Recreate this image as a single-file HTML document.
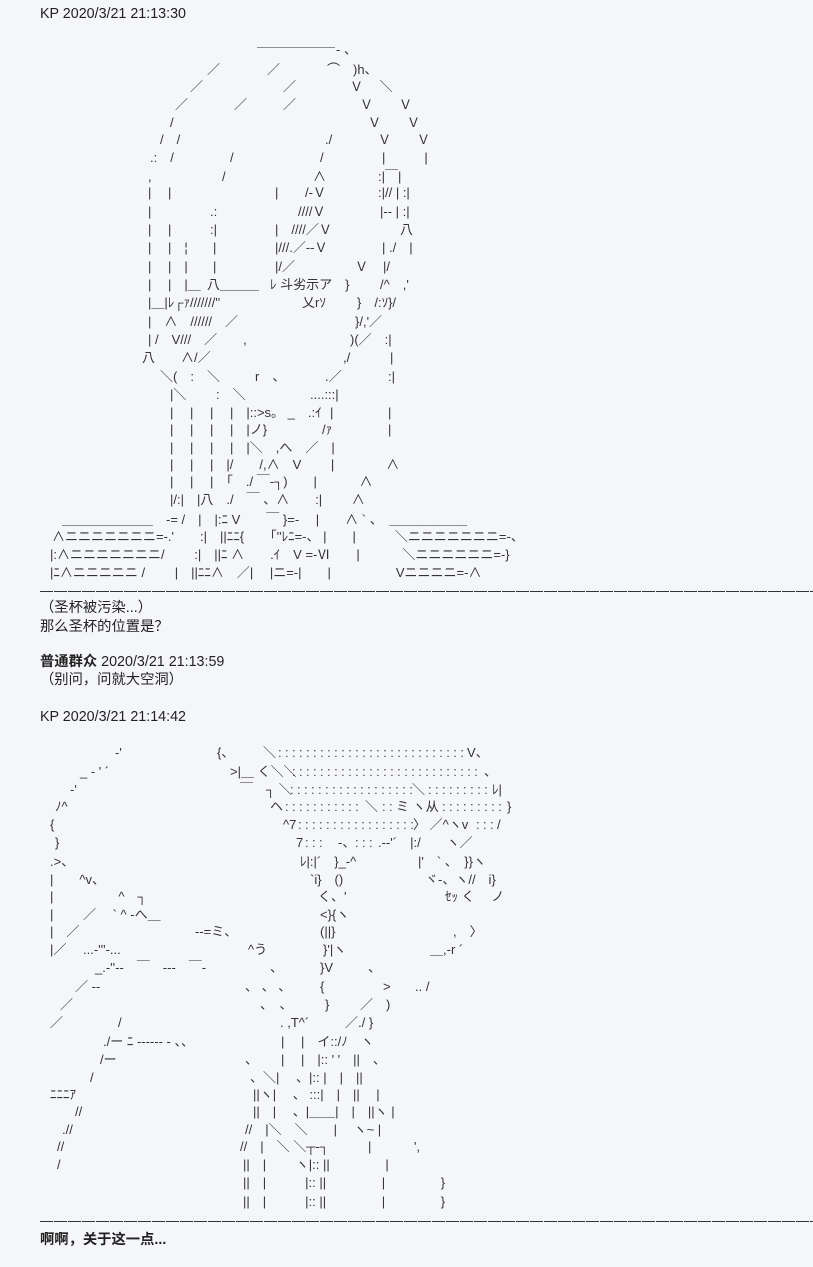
<!DOCTYPE html>
<html><head><meta charset="utf-8"><style>
html,body{margin:0;padding:0;background:#f5f6fa;}
body{width:813px;height:1267px;position:relative;overflow:hidden;color:#222;font-family:"Liberation Sans","Noto Sans CJK SC",sans-serif;font-size:14.3px;}
.t{position:absolute;left:40px;white-space:pre;line-height:18px;}
.a{position:absolute;white-space:pre;line-height:18px;font-size:13px;font-family:"Liberation Sans","Noto Sans CJK JP",sans-serif;color:#333;}
.dt{position:absolute;white-space:pre;line-height:18px;font-size:13px;letter-spacing:3.4px;color:#444;font-family:"Liberation Sans",sans-serif;}
.d{position:absolute;left:40px;width:773px;height:1px;background:repeating-linear-gradient(90deg,#333 0 13px,transparent 13px 14px);}
</style></head><body>
<div class="t" style="top:5px">KP 2020/3/21 21:13:30</div>

<div class="a" style="top:46px;left:257px">￣￣￣￣￣￣</div><div class="a" style="top:41px;left:336px">‐ 、</div>
<div class="a" style="top:61px;left:207px">／</div><div class="a" style="top:61px;left:267px">／</div><div class="a" style="top:61px;left:327px">⌒　)h、</div>
<div class="a" style="top:78px;left:190px">／</div><div class="a" style="top:78px;left:283px">／</div><div class="a" style="top:78px;left:350px">Ｖ　 ＼</div>
<div class="a" style="top:96px;left:175px">／</div><div class="a" style="top:96px;left:234px">／</div><div class="a" style="top:96px;left:283px">／</div><div class="a" style="top:96px;left:360px">Ｖ　　Ｖ</div>
<div class="a" style="top:114px;left:170px">/</div><div class="a" style="top:114px;left:368px">Ｖ　　Ｖ</div>
<div class="a" style="top:131px;left:160px">/　/</div><div class="a" style="top:131px;left:325px">./</div><div class="a" style="top:131px;left:378px">Ｖ　　Ｖ</div>
<div class="a" style="top:149px;left:150px">.:　/</div><div class="a" style="top:149px;left:230px">/</div><div class="a" style="top:149px;left:320px">/</div><div class="a" style="top:149px;left:382px">|　　　|</div>
<div class="a" style="top:168px;left:148px">,</div><div class="a" style="top:168px;left:222px">/</div><div class="a" style="top:168px;left:313px">∧</div><div class="a" style="top:168px;left:378px">:|￣|</div>
<div class="a" style="top:184px;left:148px">|　 |</div><div class="a" style="top:184px;left:275px">|</div><div class="a" style="top:184px;left:305px">/‐Ｖ</div><div class="a" style="top:184px;left:378px">:|// | :|</div>
<div class="a" style="top:203px;left:148px">|</div><div class="a" style="top:203px;left:210px">.:</div><div class="a" style="top:203px;left:298px">////Ｖ</div><div class="a" style="top:203px;left:380px">|‐‐ | :|</div>
<div class="a" style="top:221px;left:148px">|　 |</div><div class="a" style="top:221px;left:210px">:|</div><div class="a" style="top:221px;left:275px">|　////／Ｖ</div><div class="a" style="top:221px;left:400px">八</div>
<div class="a" style="top:239px;left:148px">|　 |　¦</div><div class="a" style="top:239px;left:213px">|</div><div class="a" style="top:239px;left:275px">|///.／‐‐Ｖ</div><div class="a" style="top:239px;left:382px">| ./　|</div>
<div class="a" style="top:258px;left:148px">|　 |　|</div><div class="a" style="top:258px;left:213px">|</div><div class="a" style="top:258px;left:275px">|/／</div><div class="a" style="top:258px;left:355px">Ｖ</div><div class="a" style="top:258px;left:383px">|/</div>
<div class="a" style="top:276px;left:148px">|　 |　|＿</div><div class="a" style="top:276px;left:207px">八＿＿＿</div><div class="a" style="top:276px;left:270px">ﾚ 斗劣示ア　}</div><div class="a" style="top:276px;left:380px">/^　,'</div>
<div class="a" style="top:294px;left:148px">|＿|ﾚ┌ｧ///////''</div><div class="a" style="top:294px;left:302px">乂rｿ</div><div class="a" style="top:294px;left:357px">}　/:ｿ}/</div>
<div class="a" style="top:313px;left:148px">|　∧　//////　／</div><div class="a" style="top:313px;left:355px">}/,'／</div>
<div class="a" style="top:331px;left:148px">| /　V///　／　　,</div><div class="a" style="top:331px;left:350px">)(／　:|</div>
<div class="a" style="top:349px;left:142px">八　　∧/／</div><div class="a" style="top:349px;left:343px">,/</div><div class="a" style="top:349px;left:390px">|</div>
<div class="a" style="top:368px;left:160px">＼(　:　＼</div><div class="a" style="top:368px;left:255px">r　、</div><div class="a" style="top:368px;left:325px">.／</div><div class="a" style="top:368px;left:388px">:|</div>
<div class="a" style="top:386px;left:170px">|＼　　 :　＼</div><div class="a" style="top:386px;left:310px">....:::|</div>
<div class="a" style="top:404px;left:170px">|　 |　 |　 |　|::>s。 _　.:ｲ</div><div class="a" style="top:404px;left:330px">|</div><div class="a" style="top:404px;left:388px">|</div>
<div class="a" style="top:421px;left:170px">|　 |　 |　 |　|ノ}</div><div class="a" style="top:421px;left:322px">/ｧ</div><div class="a" style="top:421px;left:388px">|</div>
<div class="a" style="top:439px;left:170px">|　 |　 |　 |　|＼　,へ　／　|</div>
<div class="a" style="top:456px;left:170px">|　 |　 |　|/　　/,∧　V　　 |　　　　∧</div>
<div class="a" style="top:473px;left:170px">|　 |　 |　「　./ ￣‐┐)　　|　　　 ∧</div>
<div class="a" style="top:491px;left:170px">|/:|　|八　./　￣ 、∧　　:|　　 ∧</div>
<div class="a" style="top:511px;left:62px">＿＿＿＿＿＿＿　‐= /　|　|:ﾆ V　　￣ }=‐　 |　　∧ ` 、　＿＿＿＿＿＿</div>
<div class="a" style="top:528px;left:52px">∧ニニニニニニニ=‐.'　　:|　||ﾆﾆ{　　「''ﾚﾆ=‐、 |　　|　　　＼ニニニニニニニ=‐、</div>
<div class="a" style="top:546px;left:50px">|:∧ニニニニニニニ/　　 :|　||ﾆ ∧　　.ｲ　V =‐Ⅵ　　|　　　 ＼ニニニニニニ=‐}</div>
<div class="a" style="top:564px;left:50px">|ﾆ∧ニニニニニ /　　 |　||ﾆﾆ∧　／|　 |ニ=‐|　　|　　　　　Vニニニニ=‐∧</div>

<div class="d" style="top:591px"></div>
<div class="t" style="top:599px">（圣杯被污染...）</div>
<div class="t" style="top:618px">那么圣杯的位置是？</div>
<div class="t" style="top:653px"><b>普通群众</b> 2020/3/21 21:13:59</div>
<div class="t" style="top:671px">（别问，问就大空洞）</div>
<div class="t" style="top:708px">KP 2020/3/21 21:14:42</div>

<div class="a" style="top:744px;left:115px">‐'</div><div class="a" style="top:744px;left:217px">{、</div><div class="a" style="top:744px;left:263px">＼</div><div class="dt" style="top:744px;left:278px">:::::::::::::::::::::::::::</div><div class="a" style="top:744px;left:467px">V、</div>
<div class="a" style="top:763px;left:80px">_ ‐ ' ´</div><div class="a" style="top:763px;left:230px">>|＿ く＼＼</div><div class="dt" style="top:763px;left:292px">:::::::::::::::::::::::::::</div><div class="a" style="top:763px;left:484px">、</div>
<div class="a" style="top:781px;left:70px">‐'</div><div class="a" style="top:781px;left:240px">￣　┐ ＼</div><div class="dt" style="top:781px;left:290px">::::::::::::::::::</div><div class="a" style="top:781px;left:412px">＼</div><div class="dt" style="top:781px;left:428px">:::::::::</div><div class="a" style="top:781px;left:492px">ﾚ|</div>
<div class="a" style="top:798px;left:55px">ﾉ^</div><div class="a" style="top:798px;left:270px">ヘ</div><div class="dt" style="top:798px;left:285px">:::::::::::</div><div class="a" style="top:798px;left:365px">＼</div><div class="dt" style="top:798px;left:382px">::</div><div class="a" style="top:798px;left:396px">ミ ヽ从</div><div class="dt" style="top:798px;left:442px">:::::::::</div><div class="a" style="top:798px;left:507px">}</div>
<div class="a" style="top:816px;left:50px">{</div><div class="a" style="top:816px;left:283px">^7</div><div class="dt" style="top:816px;left:298px">:::::::::::::::::</div><div class="a" style="top:816px;left:413px">〉 ／^ヽv</div><div class="dt" style="top:816px;left:476px">:::</div><div class="a" style="top:816px;left:497px">/</div>
<div class="a" style="top:834px;left:55px">}</div><div class="a" style="top:834px;left:296px">7</div><div class="dt" style="top:834px;left:305px">:::</div><div class="a" style="top:834px;left:338px">‐、</div><div class="dt" style="top:834px;left:355px">:::</div><div class="a" style="top:834px;left:378px">.‐‐'´　|:/　　ヽ／</div>
<div class="a" style="top:853px;left:50px">.>、</div><div class="a" style="top:853px;left:300px">ﾚ|:|´　}_‐^</div><div class="a" style="top:853px;left:418px">|'　` 、　}}ヽ</div>
<div class="a" style="top:871px;left:50px">|　　^v、</div><div class="a" style="top:871px;left:310px">`i}　()</div><div class="a" style="top:871px;left:425px">ヾ‐、ヽ//　i}</div>
<div class="a" style="top:888px;left:50px">|　　　　　^　┐</div><div class="a" style="top:888px;left:318px">く、'</div><div class="a" style="top:888px;left:445px">ｾｯ く　 ノ</div>
<div class="a" style="top:906px;left:50px">|　　 ／　 ` ^ ‐へ＿</div><div class="a" style="top:906px;left:320px">&lt;}{ヽ</div>
<div class="a" style="top:923px;left:50px">|　／</div><div class="a" style="top:923px;left:195px">‐‐=ミ、</div><div class="a" style="top:923px;left:320px">(||}</div><div class="a" style="top:923px;left:453px">,　〉</div>
<div class="a" style="top:941px;left:50px">|／　 ...‐'''‐...</div><div class="a" style="top:941px;left:248px">^う</div><div class="a" style="top:941px;left:323px">}'|ヽ</div><div class="a" style="top:941px;left:430px">＿,-r ´</div>
<div class="a" style="top:959px;left:95px">_.‐''‐‐　￣　‐‐‐　￣‐</div><div class="a" style="top:959px;left:270px">、</div><div class="a" style="top:959px;left:320px">}V</div><div class="a" style="top:959px;left:368px">、</div>
<div class="a" style="top:978px;left:75px">／ ‐‐</div><div class="a" style="top:978px;left:245px">、 、 、</div><div class="a" style="top:978px;left:320px">{</div><div class="a" style="top:978px;left:383px">></div><div class="a" style="top:978px;left:415px">.. /</div>
<div class="a" style="top:996px;left:60px">／</div><div class="a" style="top:996px;left:260px">、　、</div><div class="a" style="top:996px;left:325px">}</div><div class="a" style="top:996px;left:360px">／　)</div>
<div class="a" style="top:1014px;left:50px">／</div><div class="a" style="top:1014px;left:118px">/</div><div class="a" style="top:1014px;left:280px">. ,T^´</div><div class="a" style="top:1014px;left:345px">／./ }</div>
<div class="a" style="top:1033px;left:103px">./ー ﾆ ‐‐‐‐‐‐ ‐ 、、</div><div class="a" style="top:1033px;left:281px">|　 |　イ::/ﾉ　ヽ</div>
<div class="a" style="top:1051px;left:100px">/ー</div><div class="a" style="top:1051px;left:245px">、</div><div class="a" style="top:1051px;left:281px">|　 |　|:: ' '　||　、</div>
<div class="a" style="top:1069px;left:90px">/</div><div class="a" style="top:1069px;left:250px">、＼|　 、|:: |　|　||</div>
<div class="a" style="top:1086px;left:50px">ﾆﾆﾆｱ</div><div class="a" style="top:1086px;left:253px">||ヽ|　 、 :::|　|　||　 |</div>
<div class="a" style="top:1103px;left:75px">//</div><div class="a" style="top:1103px;left:253px">||　|　 、|＿＿|　|　||ヽ |</div>
<div class="a" style="top:1121px;left:62px">.//</div><div class="a" style="top:1121px;left:245px">//　|＼　＼　　|　 ヽ~ |</div>
<div class="a" style="top:1138px;left:57px">//</div><div class="a" style="top:1138px;left:240px">//　|　＼ ＼┬‐┐　　　|　　　 ',</div>
<div class="a" style="top:1156px;left:57px">/</div><div class="a" style="top:1156px;left:243px">||　|　　 ヽ|:: ||　　　　 |</div>
<div class="a" style="top:1174px;left:243px">||　|　　　|:: ||　　　　 |　　　　 }</div>
<div class="a" style="top:1193px;left:243px">||　|　　　|:: ||　　　　 |　　　　 }</div>

<div class="d" style="top:1221px"></div>
<div class="t" style="top:1231px"><b>啊啊，关于这一点...</b></div>
</body></html>
